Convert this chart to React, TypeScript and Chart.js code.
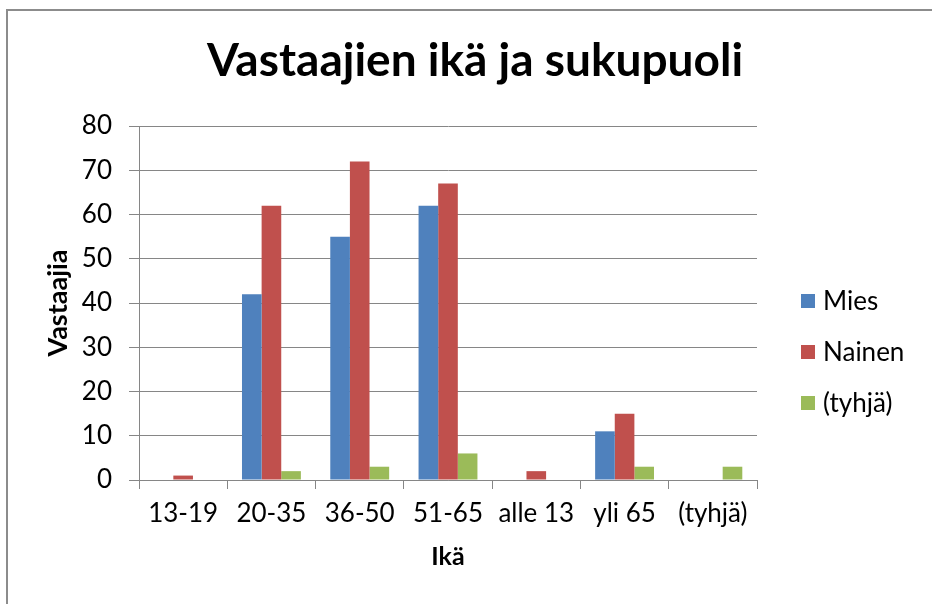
import React, { useEffect, useRef } from "react";
import { Chart, registerables } from "chart.js";

Chart.register(...registerables);

const TITLE = "Vastaajien ikä ja sukupuoli";
const X_TITLE = "Ikä";
const Y_TITLE = "Vastaajia";
const categories = ["13-19", "20-35", "36-50", "51-65", "alle 13", "yli 65", "(tyhjä)"];
const seriesNames = ["Mies", "Nainen", "(tyhjä)"];
const miesValues = [0, 42, 55, 62, 0, 11, 0];
const nainenValues = [1, 62, 72, 67, 2, 15, 0];
const tyhjaValues = [0, 2, 3, 6, 0, 3, 3];
const seriesColors = ["#4F81BD", "#C0504D", "#9BBB59"];
const yMin = 0;
const yMax = 80;
const yStep = 10;

const FONT = "Lato, 'Open Sans', sans-serif";
const GRID = "#868686";

const decorPlugin = {
  id: "decor",
  afterDraw(chart: any) {
    const ctx = chart.ctx;
    ctx.save();
    // frame
    ctx.strokeStyle = "#8c8c8c";
    ctx.lineWidth = 2;
    ctx.beginPath();
    ctx.moveTo(7, 604);
    ctx.lineTo(7, 10);
    ctx.lineTo(932, 10);
    ctx.stroke();
    // title
    ctx.fillStyle = "#000";
    ctx.font = `bold 46px ${FONT}`;
    ctx.textAlign = "center";
    ctx.textBaseline = "alphabetic";
    ctx.fillText(TITLE, 475, 76);
    // legend
    ctx.font = `26px ${FONT}`;
    ctx.textAlign = "left";
    ctx.textBaseline = "middle";
    chart.data.datasets.forEach((ds: any, i: number) => {
      const cy = 301 + 51 * i;
      ctx.fillStyle = ds.backgroundColor;
      ctx.fillRect(801, cy - 7, 14, 14);
      ctx.fillStyle = "#000";
      ctx.fillText(ds.label, 823, cy + 1);
    });
    ctx.restore();
  },
};

export default function App() {
  const ref = useRef<HTMLCanvasElement>(null);
  useEffect(() => {
    if (!ref.current) return;
    const seriesValues = [miesValues, nainenValues, tyhjaValues];
    const chart = new Chart(ref.current, {
      type: "bar",
      data: {
        labels: categories,
        datasets: seriesNames.map((name, i) => ({
          label: name,
          data: seriesValues[i],
          backgroundColor: seriesColors[i],
          borderWidth: 0,
          barPercentage: 1,
          categoryPercentage: 0.667,
        })),
      },
      options: {
        animation: false,
        responsive: false,
        devicePixelRatio: 1,
        layout: { padding: { top: 126, left: 0, right: 175, bottom: 0 } },
        plugins: {
          legend: { display: false },
          title: { display: false },
          tooltip: { enabled: false },
        },
        scales: {
          x: {
            afterFit(scale: any) {
              scale.height = 124;
            },
            offset: true,
            grid: {
              offset: true,
              drawOnChartArea: false,
              drawTicks: true,
              tickLength: 9,
              color: GRID,
            },
            border: { color: GRID, width: 1 },
            ticks: {
              color: "#000",
              font: { family: FONT, size: 26 },
              padding: 9,
              maxRotation: 0,
            },
            title: {
              display: true,
              text: X_TITLE,
              color: "#000",
              font: { family: FONT, size: 25, weight: "bold" },
              padding: { top: 0, bottom: 32 },
            },
          },
          y: {
            afterFit(scale: any) {
              scale.width = 139;
            },
            min: yMin,
            max: yMax,
            grid: {
              color: GRID,
              drawTicks: true,
              tickLength: 10,
            },
            border: { color: GRID, width: 1 },
            ticks: {
              stepSize: yStep,
              color: "#000",
              font: { family: FONT, size: 26 },
              padding: 17,
            },
            title: {
              display: true,
              text: Y_TITLE,
              color: "#000",
              font: { family: FONT, size: 27, weight: "bold" },
              padding: { top: 42, bottom: 0 },
            },
          },
        },
      },
      plugins: [decorPlugin],
    });
    return () => chart.destroy();
  }, []);
  return (
    <div style={{ position: "absolute", left: 0, top: 0, width: 932, height: 604, background: "#fff" }}>
      <canvas ref={ref} width={932} height={604} style={{ display: "block" }} />
    </div>
  );
}
